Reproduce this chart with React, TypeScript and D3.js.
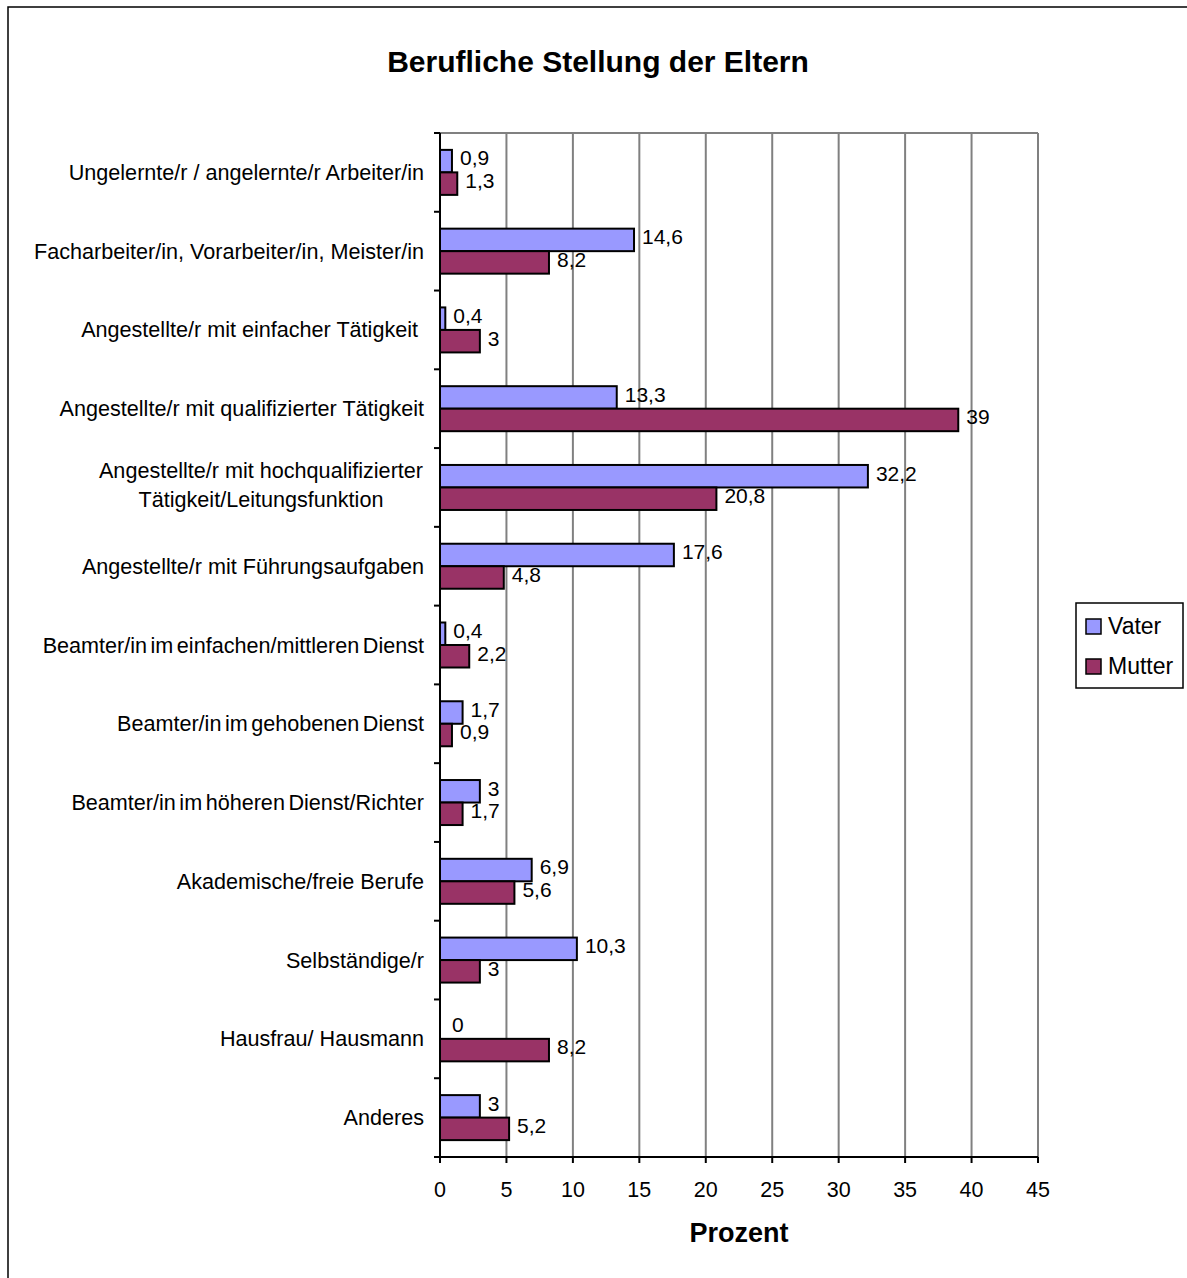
import React from "react";
import * as d3 from "d3";

const categories: string[][] = [
  ["Ungelernte/r / angelernte/r Arbeiter/in"],
  ["Facharbeiter/in, Vorarbeiter/in, Meister/in"],
  ["Angestellte/r mit einfacher Tätigkeit\u00a0"],
  ["Angestellte/r mit qualifizierter Tätigkeit"],
  ["Angestellte/r mit hochqualifizierter", "Tätigkeit/Leitungsfunktion"],
  ["Angestellte/r mit Führungsaufgaben"],
  ["Beamter/in im einfachen/mittleren Dienst"],
  ["Beamter/in im gehobenen Dienst"],
  ["Beamter/in im höheren Dienst/Richter"],
  ["Akademische/freie Berufe"],
  ["Selbständige/r"],
  ["Hausfrau/ Hausmann"],
  ["Anderes"],
];
const vater: number[] = [0.9, 14.6, 0.4, 13.3, 32.2, 17.6, 0.4, 1.7, 3, 6.9, 10.3, 0, 3];
const mutter: number[] = [1.3, 8.2, 3, 39, 20.8, 4.8, 2.2, 0.9, 1.7, 5.6, 3, 8.2, 5.2];
const xTicks: number[] = [0, 5, 10, 15, 20, 25, 30, 35, 40, 45];
const seriesNames = ["Vater", "Mutter"];
const seriesColors = ["#9999FF", "#993366"];

const W = 1187, H = 1278;
const left = 440, right = 1038, top = 133, bottom = 1157;
const FONT = "Liberation Sans, Arial, sans-serif";

export default function App() {
  const x = d3.scaleLinear().domain([0, 45]).range([left, right]);
  const idx = categories.map((_, i) => i);
  const y = d3.scaleBand<number>().domain(idx).range([top, bottom]).paddingInner(0).paddingOuter(0);
  const bw = y.bandwidth();
  const barH = 22.5;
  const fmt = (v: number) => String(v).replace(".", ",");
  const series = [vater, mutter];

  return (
    <svg width={W} height={H} style={{ position: "absolute", left: 0, top: 0, background: "#fff" }} fontFamily={FONT}>
      <rect x={0} y={0} width={W} height={H} fill="#fff" />
      <rect x={8} y={7} width={W + 20} height={H + 20} fill="none" stroke="#000" strokeWidth={1.5} />
      <text x={598} y={61} dy="0.35em" textAnchor="middle" fontSize={30} fontWeight="bold">Berufliche Stellung der Eltern</text>

      {/* gridlines */}
      {xTicks.slice(1).map((t) => (
        <line key={t} x1={x(t)} x2={x(t)} y1={top} y2={bottom} stroke="#808080" strokeWidth={2} />
      ))}
      <line x1={left} x2={right} y1={top} y2={top} stroke="#808080" strokeWidth={2} />

      {/* bars */}
      {series.map((vals, s) =>
        vals.map((v, i) => {
          const cy = (y(i) as number) + bw / 2;
          const by = s === 0 ? cy - barH : cy;
          return (
            <g key={`${s}-${i}`}>
              {v > 0 && (
                <rect x={x(0)} y={by} width={x(v) - x(0)} height={barH} fill={seriesColors[s]} stroke="#000" strokeWidth={2} />
              )}
              <text x={x(v) + (v > 0 ? 8 : 12)} y={by + barH / 2 - 3} dy="0.35em" fontSize={21}>{fmt(v)}</text>
            </g>
          );
        })
      )}

      {/* axes */}
      <line x1={left} x2={left} y1={top} y2={bottom} stroke="#000" strokeWidth={2} />
      <line x1={left - 6} x2={right} y1={bottom} y2={bottom} stroke="#000" strokeWidth={2} />
      {idx.map((i) => (
        <line key={i} x1={left - 6} x2={left} y1={y(i) as number} y2={y(i) as number} stroke="#000" strokeWidth={2} />
      ))}
      {xTicks.map((t) => (
        <g key={t}>
          <line x1={x(t)} x2={x(t)} y1={bottom} y2={bottom + 6} stroke="#000" strokeWidth={2} />
          <text x={x(t)} y={1189} dy="0.35em" textAnchor="middle" fontSize={21.5}>{t}</text>
        </g>
      ))}

      {/* category labels */}
      {categories.map((lines, i) => {
        const cy = (y(i) as number) + bw / 2;
        const lh = 29;
        const ws = lines[0].startsWith("Beamter") ? -2.5 : 0;
        if (lines.length === 1) {
          return <text key={i} x={424} y={cy} dy="0.35em" textAnchor="end" fontSize={21.6} wordSpacing={ws}>{lines[0]}</text>;
        }
        return (
          <g key={i}>
            {lines.map((l, j) => (
              <text key={j} x={261} y={cy - 3 + (j - (lines.length - 1) / 2) * lh} dy="0.35em" textAnchor="middle" fontSize={21.6}>{l}</text>
            ))}
          </g>
        );
      })}

      <text x={(left + right) / 2} y={1233} dy="0.35em" textAnchor="middle" fontSize={27} fontWeight="bold">Prozent</text>

      {/* legend */}
      <rect x={1076} y={603} width={107} height={85} fill="#fff" stroke="#000" strokeWidth={1.5} />
      {seriesNames.map((n, s) => (
        <g key={n}>
          <rect x={1086} y={619 + s * 40} width={15} height={15} fill={seriesColors[s]} stroke="#000" strokeWidth={1.5} />
          <text x={1108} y={626 + s * 40} dy="0.35em" fontSize={23}>{n}</text>
        </g>
      ))}
    </svg>
  );
}
